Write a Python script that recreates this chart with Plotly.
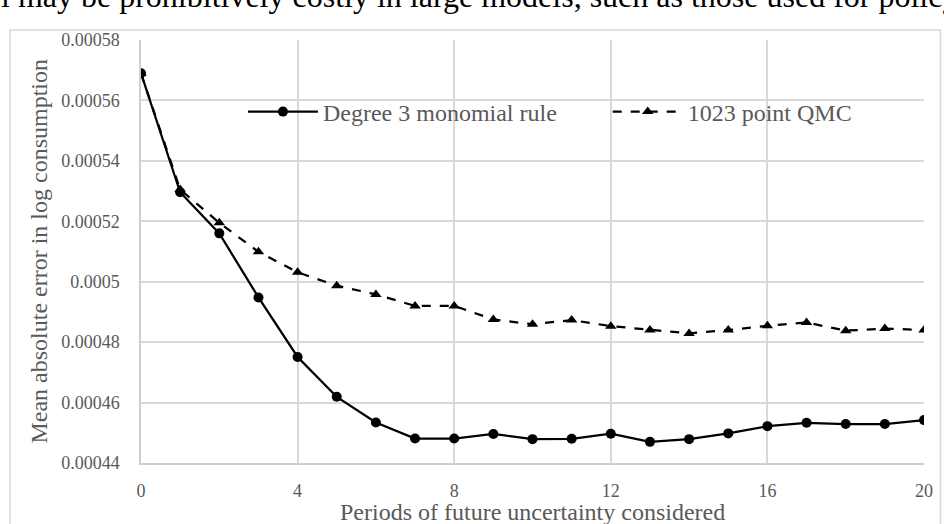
import plotly.graph_objects as go

periods = list(range(0, 21))
monomial = [0.000569, 0.0005296, 0.000516, 0.0004948, 0.0004751, 0.0004619, 0.0004534,
            0.0004481, 0.0004481, 0.0004496, 0.0004479, 0.000448, 0.0004497, 0.000447,
            0.0004479, 0.0004498, 0.0004522, 0.0004533, 0.0004529, 0.0004529, 0.0004542]
qmc = [0.000569, 0.0005305, 0.0005195, 0.0005099, 0.0005031, 0.0004987, 0.0004958,
       0.000492, 0.000492, 0.0004875, 0.0004859, 0.0004873, 0.0004853, 0.000484,
       0.0004829, 0.000484, 0.0004854, 0.0004865, 0.0004838, 0.0004845, 0.000484]
x_ticks = [0, 4, 8, 12, 16, 20]
y_ticks = [0.00044, 0.00046, 0.00048, 0.0005, 0.00052, 0.00054, 0.00056, 0.00058]
y_tick_labels = ["0.00044", "0.00046", "0.00048", "0.0005", "0.00052", "0.00054", "0.00056", "0.00058"]

FONT = "Liberation Serif, Times New Roman, serif"
GRAY = "#595959"
GRID = "#d9d9d9"

W, H = 944, 524
L, R, T, B = 141, 19.5, 40, 61
pw, ph = W - L - R, H - T - B


def px_x(p):
    return (p - L) / pw


def px_y(p):
    return (H - B - p) / ph


fig = go.Figure()
fig.add_trace(go.Scatter(
    x=periods, y=monomial, mode="lines+markers", name="Degree 3 monomial rule",
    line=dict(color="black", width=2.25),
    marker=dict(symbol="circle", size=10, color="black"),
    legend="legend",
))
fig.add_trace(go.Scatter(
    x=periods, y=qmc, mode="lines+markers", name="1023 point QMC",
    line=dict(color="black", width=2.25, dash="dash"),
    marker=dict(symbol="triangle-up", size=10, color="black"),
    legend="legend2",
))

legend_common = dict(
    orientation="h", xanchor="left", yanchor="middle",
    font=dict(size=24, color=GRAY, family=FONT), itemwidth=70,
    bgcolor="rgba(0,0,0,0)",
)

fig.update_layout(
    width=W, height=H,
    margin=dict(l=L, r=R, t=T, b=B),
    paper_bgcolor="white", plot_bgcolor="white",
    font=dict(family=FONT, color=GRAY, size=18),
    showlegend=True,
    legend=dict(x=px_x(243), y=px_y(112), **legend_common),
    legend2=dict(x=px_x(608), y=px_y(112), **legend_common),
    xaxis=dict(
        range=[0, 20], tickvals=x_ticks, showgrid=True, gridcolor=GRID, gridwidth=1.5,
        showline=True, linecolor="#cfcfcf", linewidth=1.5, zeroline=False,
        ticks="", tickfont=dict(size=18, color=GRAY, family=FONT), ticklabelstandoff=11,
    ),
    yaxis=dict(
        range=[0.00044, 0.00058], tickvals=y_ticks, ticktext=y_tick_labels,
        showgrid=True, gridcolor=GRID, gridwidth=1.5,
        showline=True, linecolor="#cfcfcf", linewidth=1.5, zeroline=False,
        ticks="", tickfont=dict(size=18, color=GRAY, family=FONT), ticklabelstandoff=16,
    ),
    annotations=[
        dict(text="Periods of future uncertainty considered", xref="paper", yref="paper",
             x=0.5, y=px_y(512), xanchor="center", yanchor="middle", showarrow=False,
             font=dict(size=24, color=GRAY, family=FONT)),
        dict(text="Mean absolute error in log consumption", xref="paper", yref="paper",
             x=px_x(38), y=px_y(251.5), xanchor="center", yanchor="middle", showarrow=False,
             textangle=-90, font=dict(size=24, color=GRAY, family=FONT)),
        dict(text="l may be prohibitively costly in large models, such as those used for policy",
             xref="paper", yref="paper", x=px_x(-1), y=px_y(16), xanchor="left",
             yanchor="bottom", showarrow=False,
             font=dict(size=32, color="black", family=FONT)),
    ],
    shapes=[
        dict(type="rect", xref="paper", yref="paper", x0=px_x(10), x1=px_x(941),
             y0=px_y(540), y1=px_y(30), line=dict(color=GRID, width=1.5), layer="below"),
    ],
)

fig.write_html("out.html")
